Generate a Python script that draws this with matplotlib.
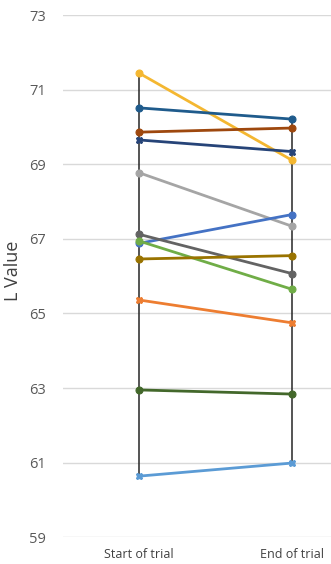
import matplotlib.pyplot as plt

categories = ['Start of trial', 'End of trial']

# one list per participant: [start, end]
series = [
    ([71.44, 69.11], '#f4b731', 'o'),
    ([70.51, 70.21], '#1f5b8c', 'o'),
    ([69.86, 69.97], '#9e480e', 'o'),
    ([69.65, 69.34], '#264478', 'X'),
    ([68.77, 67.34], '#a5a5a5', 'o'),
    ([66.88, 67.65], '#4472c4', 'o'),
    ([67.12, 66.07], '#636363', 'o'),
    ([66.94, 65.65], '#70ad47', 'o'),
    ([66.46, 66.55], '#997300', 'o'),
    ([65.36, 64.75], '#ed7d31', 'X'),
    ([62.95, 62.84], '#43682b', 'o'),
    ([60.64, 60.99], '#5b9bd5', 'X'),
]

y_ticks = [59, 61, 63, 65, 67, 69, 71, 73]

plt.rcParams['font.family'] = ['Open Sans', 'DejaVu Sans']

fig = plt.figure(figsize=(3.31, 5.64), dpi=100)
ax = fig.add_axes([63 / 331, 26.7 / 564, 1 - 63 / 331, 522.3 / 564])

x = list(range(len(categories)))

# high-low lines at each category
for i in x:
    vals = [s[0][i] for s in series]
    ax.plot([i, i], [min(vals), max(vals)], color='#262626', lw=1.1, zorder=2)

for vals, color, marker in series:
    ax.plot(x, vals, color=color, lw=2, marker=marker, markersize=5,
            markeredgewidth=0.8, zorder=3)

ax.set_xlim(-0.5, 1.257)
ax.set_ylim(59, 73)
ax.set_yticks(y_ticks)
ax.set_xticks(x)
ax.set_xticklabels(categories, fontsize=9, color='#404040')
ax.tick_params(axis='y', labelsize=10.5, colors='#595959', length=0, pad=12)
ax.tick_params(axis='x', length=0, pad=8)
ax.grid(axis='y', color='#d9d9d9', lw=1)
ax.set_axisbelow(True)
for sp in ax.spines.values():
    sp.set_visible(False)

ax.set_ylabel('L Value', fontsize=13, color='#404040')
ax.yaxis.set_label_coords((22 - 63) / 268, 0.51)

fig.savefig('out.png', dpi=100)
